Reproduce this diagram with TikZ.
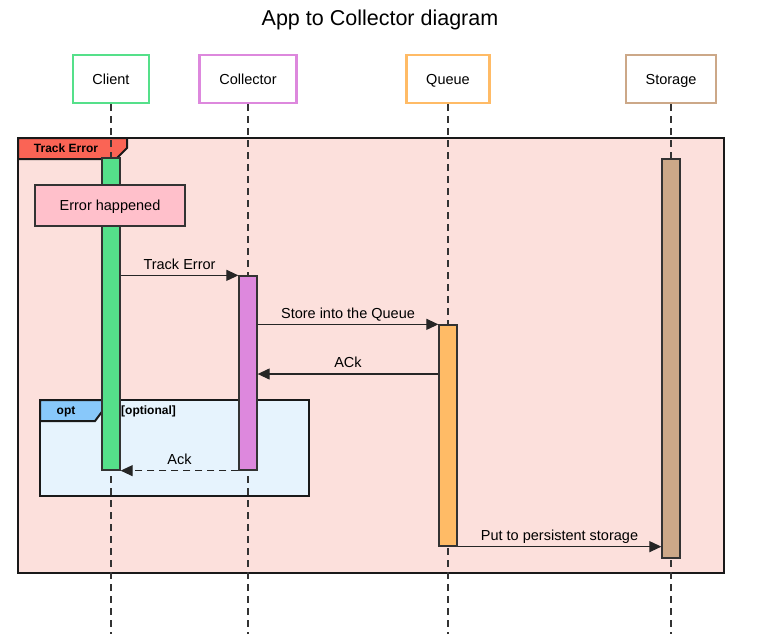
\documentclass[tikz,border=0pt]{standalone}
\usepackage{fontspec}
\setmainfont{Liberation Sans}
\usetikzlibrary{arrows.meta}

\begin{document}
\begin{tikzpicture}[x=1pt, y=-1pt,
    participant/.style={draw, line width=2.5pt, fill=white, minimum height=48pt, inner sep=0pt,
                        text height=10pt, text depth=0pt, font=\fontsize{14.5}{17}\selectfont},
    lifeline/.style={draw=black!80, line width=1.2pt, dash pattern=on 7pt off 5pt},
    act/.style={draw=black!80, line width=1.3pt, minimum width=18pt, inner sep=0pt},
    msg/.style={draw=black!85, line width=1.2pt, -{Triangle[length=12pt,width=11pt]}},
    lbl/.style={font=\fontsize{14.5}{17}\selectfont, text height=10pt, text depth=3pt, inner sep=0pt, above=2.5pt},
    frame/.style={draw=black!90, line width=2pt},
    tablabel/.style={font=\bfseries\fontsize{12}{14}\selectfont, inner sep=0pt, text height=8.5pt, text depth=0pt}]
    % Define colors
    \definecolor{clientgreen}{RGB}{85,224,138}
    \definecolor{collectorviolet}{RGB}{221,136,221}
    \definecolor{queueorange}{RGB}{255,187,102}
    \definecolor{storagetan}{RGB}{204,168,136}
    \definecolor{framepink}{RGB}{252,224,220}
    \definecolor{tabred}{RGB}{250,100,85}
    \definecolor{notepink}{RGB}{255,192,203}
    \definecolor{optblue}{RGB}{230,243,253}
    \definecolor{opttab}{RGB}{136,200,250}

    % Fix the size of the page
    \useasboundingbox (0,0) rectangle (759,634);

    % Title
    \node[font=\fontsize{21.5}{25}\selectfont, text height=15pt, text depth=0pt, inner sep=0pt] (title) at (380,18.5) {App to Collector diagram};

    % Frame for the whole exchange
    \filldraw[frame, fill=framepink] (18,138) rectangle (724,573);
    \filldraw[frame, fill=tabred] (18,138) -- (127,138) -- (127,148) -- (116,159) -- (18,159) -- cycle;
    \node[tablabel] (trackTab) at (66,148.5) {Track Error};

    % Frame for the optional reply
    \filldraw[frame, fill=optblue] (40,400) rectangle (309,496);
    \filldraw[frame, fill=opttab] (40,400) -- (104,400) -- (104,409) -- (95,421) -- (40,421) -- cycle;
    \node[tablabel] (optTab) at (66,410.5) {opt};
    \node[tablabel, anchor=west] (optGuard) at (121,410.5) {[optional]};

    % Participants and their lifelines
    \coordinate (pageBottom) at (0,634);
    \foreach \p/\x/\w/\c/\t in {client/111/76/clientgreen/Client,
                                collector/248/97/collectorviolet/Collector,
                                queue/448/83/queueorange/Queue,
                                storage/671/90/storagetan/Storage} {
      \node[participant, draw=\c, minimum width=\w pt] (\p) at (\x,79) {\t};
      \draw[lifeline] (\p.south) -- (\p.south |- pageBottom);
    }

    % Activation bars
    \node[act, fill=clientgreen, minimum height=312pt] (actClient) at (111,314) {};
    \node[act, fill=collectorviolet, minimum height=194pt] (actCollector) at (248,373) {};
    \node[act, fill=queueorange, minimum height=221pt] (actQueue) at (448,435.5) {};
    \node[act, fill=storagetan, minimum height=399pt] (actStorage) at (671,358.5) {};

    % Note
    \node[draw=black!80, line width=1.3pt, fill=notepink, minimum width=150pt, minimum height=41pt,
          text height=10pt, text depth=0pt, font=\fontsize{14.5}{17}\selectfont] (errNote) at (110,205.5) {Error happened};

    % Messages
    \coordinate (ackRow) at (0,374);
    \draw[msg] (actClient.east |- actCollector.north) -- node[lbl] {Track Error} (actCollector.north west);
    \draw[msg] (actCollector.east |- actQueue.north) -- node[lbl] {Store into the Queue} (actQueue.north west);
    \draw[msg] (actQueue.west |- ackRow) -- node[lbl] {ACk} (actCollector.east |- ackRow);
    \draw[msg, dash pattern=on 7pt off 5pt] (actCollector.south west) -- node[lbl] {Ack} (actClient.south east);
    \draw[msg] (actQueue.south east) -- node[lbl] {Put to persistent storage} (actStorage.west |- actQueue.south);
  \end{tikzpicture}
\end{document}
